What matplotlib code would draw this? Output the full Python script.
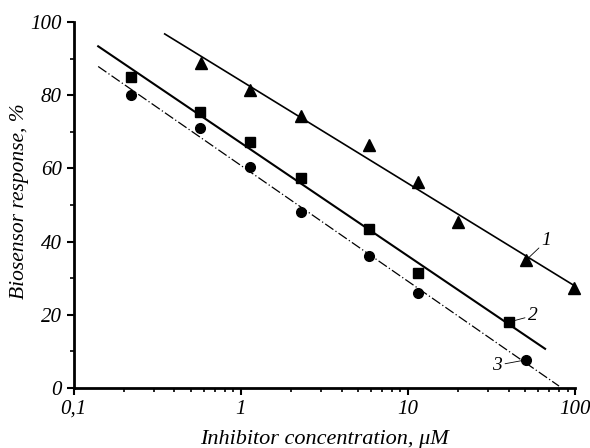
import numpy as np
import matplotlib
matplotlib.use("Agg")
import matplotlib.pyplot as plt
import matplotlib.ticker as ticker

plt.rcParams['font.family'] = ['Liberation Serif', 'DejaVu Serif']
plt.rcParams['font.style'] = 'italic'

# Data
conc1 = [0.58, 1.13, 2.3, 5.8, 11.5, 20, 51, 98]
resp1 = [88.8, 81.4, 74.3, 66.4, 56.3, 45.4, 35.0, 27.3]
conc2 = [0.22, 0.57, 1.13, 2.3, 5.8, 11.5, 40]
resp2 = [85.0, 75.4, 67.2, 57.4, 43.4, 31.4, 18.0]
conc3 = [0.22, 0.57, 1.13, 2.3, 5.8, 11.5, 51]
resp3 = [80.0, 71.0, 60.4, 48.0, 36.0, 26.0, 7.7]

# x extent of each fitted line
span1 = [0.35, 100]
span2 = [0.14, 66]
span3 = [0.14, 80]

fig = plt.figure(figsize=(5.9, 4.48), dpi=100)
ax = fig.add_axes([0.125, 0.134, 0.85, 0.817])

def fit_line(x, y, span, **kw):
    k, b = np.polyfit(np.log10(x), y, 1)
    xs = np.array(span)
    ax.plot(xs, k * np.log10(xs) + b, color='black', **kw)

fit_line(conc1, resp1, span1, lw=1.2)
fit_line(conc2, resp2, span2, lw=1.5)
fit_line(conc3, resp3, span3, lw=0.9, linestyle=(0, (8, 2, 1, 2)))

ax.plot(conc1, resp1, '^', color='black', ms=8, clip_on=False)
ax.plot(conc2, resp2, 's', color='black', ms=7, clip_on=False)
ax.plot(conc3, resp3, 'o', color='black', ms=7, clip_on=False)

# curve numbers with short leader lines
ax.annotate('1', xy=(conc1[6], resp1[6]), xytext=(63, 39), fontsize=14,
            arrowprops=dict(arrowstyle='-', lw=0.6, shrinkA=0, shrinkB=3))
ax.annotate('2', xy=(conc2[6], resp2[6]), xytext=(52, 18.5), fontsize=14,
            arrowprops=dict(arrowstyle='-', lw=0.6, shrinkA=0, shrinkB=3))
ax.annotate('3', xy=(conc3[6], resp3[6]), xytext=(32, 5), fontsize=14,
            arrowprops=dict(arrowstyle='-', lw=0.6, shrinkA=0, shrinkB=3))

ax.set_xscale('log')
ax.set_xlim(0.1, 100)
ax.set_ylim(0, 100)
ax.set_xticks([0.1, 1, 10, 100])
ax.set_xticklabels(['0,1', '1', '10', '100'])
ax.xaxis.set_minor_locator(ticker.LogLocator(base=10, subs=np.arange(2, 10)))
ax.xaxis.set_minor_formatter(ticker.NullFormatter())
ax.set_yticks(np.arange(0, 101, 20))
ax.yaxis.set_minor_locator(ticker.MultipleLocator(10))

for s in ['top', 'right']:
    ax.spines[s].set_visible(False)
for s in ['left', 'bottom']:
    ax.spines[s].set_linewidth(2)

ax.tick_params(which='major', direction='out', length=5, width=1.5, labelsize=15)
ax.tick_params(which='minor', direction='out', length=3, width=1.2)

ax.set_xlabel('Inhibitor concentration, \u03bcM', fontsize=16)
ax.set_ylabel('Biosensor response, %', fontsize=15.5)
ax.xaxis.set_label_coords(0.5, -0.115)
ax.yaxis.set_label_coords(-0.09, 0.51)

fig.savefig('out.png', dpi=100)
